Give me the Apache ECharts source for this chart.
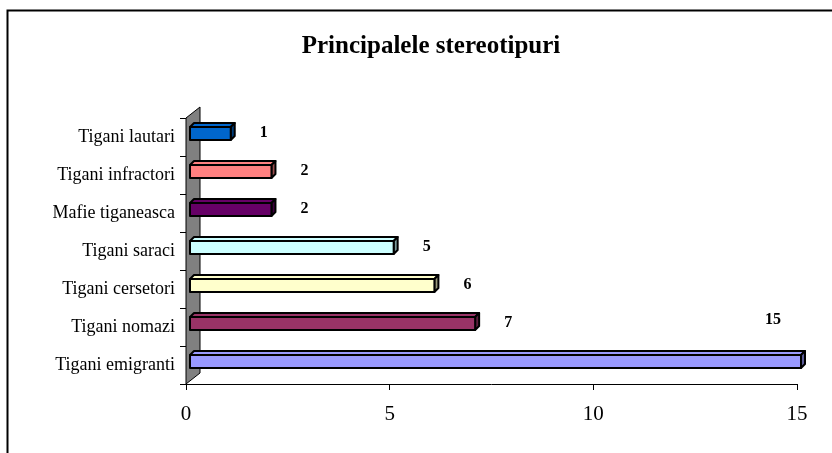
<!DOCTYPE html>
<html>
<head>
<meta charset="utf-8">
<script src="https://cdn.jsdelivr.net/npm/echarts@6/dist/echarts.min.js"></script>
<style>
  html, body { margin: 0; padding: 0; background: #ffffff; }
  #chart { width: 832px; height: 453px; }
</style>
</head>
<body>
<div id="chart"></div>
<script>
// bottom to top, as Excel draws them
const categories = ['Tigani emigranti', 'Tigani nomazi', 'Tigani cersetori', 'Tigani saraci', 'Mafie tiganeasca', 'Tigani infractori', 'Tigani lautari'];
const values = [15, 7, 6, 5, 2, 2, 1];
const frontColors = ['#9999FF', '#993366', '#FFFFCC', '#CCFFFF', '#660066', '#FF8080', '#0066CC'];
const sideColors = ['#5C5C99', '#5C1F3D', '#99997A', '#7A9999', '#3D003D', '#994D4D', '#003D7A'];
const xTicks = [0, 5, 10, 15];

const serif = '"Liberation Serif", "Times New Roman", serif';
const chart = echarts.init(document.getElementById('chart'));

// grey back wall of the 3D plot
function renderWall(params, api) {
  const cs = params.coordSys;
  const dx = 14, dy = -11;
  return {
    type: 'polygon',
    shape: {
      points: [
        [cs.x, cs.y + cs.height],
        [cs.x, cs.y],
        [cs.x + dx, cs.y + dy],
        [cs.x + dx, cs.y + cs.height + dy]
      ]
    },
    style: { fill: '#808080', stroke: '#000', lineWidth: 1 }
  };
}

function renderBar(params, api) {
  const i = params.dataIndex;
  const c = api.value(1);
  const v = api.value(0);
  const start = api.coord([0, c]);
  const end = api.coord([v, c]);
  const band = api.size([0, 1])[1];
  const h = band * 0.34;
  const x0 = start[0] + 4;
  const x1 = end[0] + 4;
  const yc = start[1] - 3.5;
  const top = yc - h / 2, bot = yc + h / 2;
  const d = 4;
  const cs = params.coordSys;
  let lx = x1 + 33, ly = yc - 1;
  if (lx > cs.x + cs.width - 10) {
    lx = cs.x + cs.width - 24;
    ly = yc - 42;
  }
  const line = { stroke: '#000', lineWidth: 2, lineJoin: 'round' };
  return {
    type: 'group',
    children: [
      {
        type: 'polygon',
        shape: { points: [[x0, top], [x1, top], [x1 + d, top - d], [x0 + d, top - d]] },
        style: Object.assign({ fill: frontColors[i] }, line)
      },
      {
        type: 'polygon',
        shape: { points: [[x1, top], [x1 + d, top - d], [x1 + d, bot - d], [x1, bot]] },
        style: Object.assign({ fill: sideColors[i] }, line)
      },
      {
        type: 'rect',
        shape: { x: x0, y: top, width: x1 - x0, height: h },
        style: Object.assign({ fill: frontColors[i] }, line)
      },
      {
        type: 'text',
        style: {
          x: lx, y: ly, text: String(v),
          textAlign: 'center', textVerticalAlign: 'middle',
          font: 'bold 16px ' + serif, fill: '#000'
        }
      }
    ]
  };
}

const option = {
  backgroundColor: '#ffffff',
  animation: false,
  title: {
    text: 'Principalele stereotipuri',
    left: 426,
    top: 29,
    textAlign: 'center',
    textStyle: { fontFamily: serif, fontWeight: 'bold', fontSize: 25, color: '#000' }
  },
  graphic: [{
    type: 'polyline',
    shape: { points: [[7.5, 453], [7.5, 10.5], [832, 10.5]] },
    style: { stroke: '#000', lineWidth: 2, fill: null }
  }],
  grid: { left: 186, right: 35, top: 118, bottom: 69 },
  xAxis: {
    type: 'value',
    min: xTicks[0],
    max: xTicks[xTicks.length - 1],
    interval: xTicks[1] - xTicks[0],
    splitLine: { show: false },
    axisLine: { show: true, lineStyle: { color: '#000', width: 1 } },
    axisTick: { show: true, length: 6, lineStyle: { color: '#000' } },
    axisLabel: { color: '#000', fontFamily: serif, fontSize: 21, margin: 20 }
  },
  yAxis: {
    type: 'category',
    data: categories,
    axisLine: { show: true, lineStyle: { color: '#000', width: 1 } },
    axisTick: { show: true, length: 6, lineStyle: { color: '#000' } },
    axisLabel: { color: '#000', fontFamily: serif, fontSize: 18, margin: 11 }
  },
  series: [
    {
      type: 'custom',
      name: 'wall',
      renderItem: renderWall,
      data: [[0, 0]],
      encode: { x: 0, y: 1 },
      clip: false,
      z: 1,
      silent: true
    },
    {
      type: 'custom',
      name: 'stereotipuri',
      renderItem: renderBar,
      data: values.map((v, i) => [v, i]),
      encode: { x: 0, y: 1 },
      clip: false,
      z: 3
    }
  ]
};

chart.setOption(option);
</script>
</body>
</html>
